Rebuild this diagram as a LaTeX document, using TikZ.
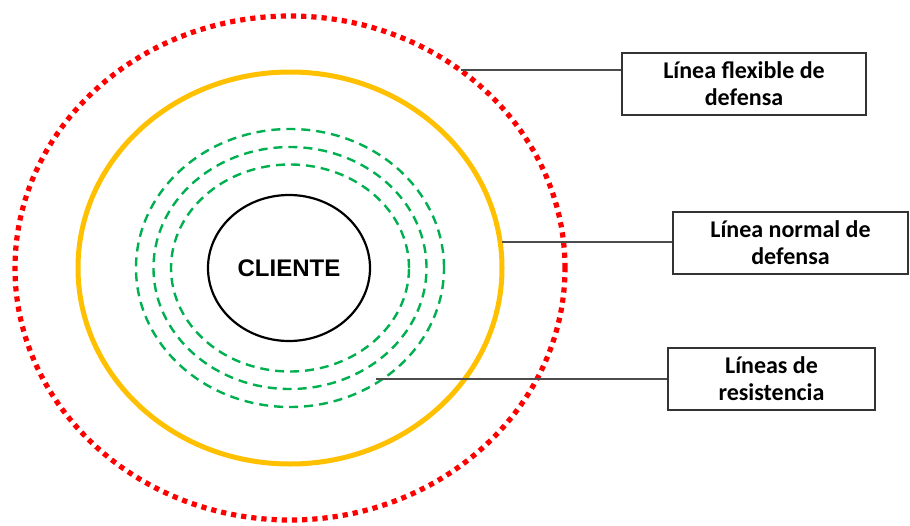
\documentclass[tikz,border=0pt]{standalone}
\usepackage{fontspec}
\setmainfont{Carlito}
\newfontfamily\arialb{Liberation Sans}
\usetikzlibrary{shapes.geometric}
\definecolor{dotred}{RGB}{255,0,0}
\definecolor{ringorange}{RGB}{255,192,0}
\definecolor{ringgreen}{RGB}{0,176,80}
\tikzset{
  ring/.style={ellipse, inner sep=0pt},
  labelbox/.style={draw=black!80, line width=1.3pt, minimum height=62pt, align=center,
    font=\fontsize{24}{27}\selectfont\bfseries},
  leader/.style={draw=black!70, line width=1.3pt}
}
\begin{document}
\begin{tikzpicture}[x=1pt,y=-1pt]
\useasboundingbox (0,0) rectangle (910,525);
\node[ring, draw=dotred, line width=5.2pt, dash pattern=on 5.2pt off 5pt,
  minimum width=550pt, minimum height=504pt] (red) at (290,268) {};
\node[ring, draw=ringorange, line width=5pt,
  minimum width=424pt, minimum height=392pt] (orange) at (290,268) {};
\node[ring, draw=ringgreen, line width=2.4pt, dash pattern=on 9pt off 6pt,
  minimum width=308pt, minimum height=278pt] (g1) at (290,268) {};
\node[ring, draw=ringgreen, line width=2.4pt, dash pattern=on 9pt off 6pt,
  minimum width=273pt, minimum height=242pt] (g2) at (290,268) {};
\node[ring, draw=ringgreen, line width=2.4pt, dash pattern=on 9pt off 6pt,
  minimum width=238pt, minimum height=207pt] (g3) at (290,268) {};
\node[ring, draw=black, line width=2.2pt,
  minimum width=162pt, minimum height=146pt] (client) at (289,268)
  {\arialb\fontsize{24}{26}\selectfont\bfseries CLIENTE};

\node[labelbox, minimum width=244pt] (b1) at (744,84) {Línea flexible de\\defensa};
\node[labelbox, minimum width=235pt] (b2) at (790.5,243) {Línea normal de\\defensa};
\node[labelbox, minimum width=207pt] (b3) at (771.5,379) {Líneas de\\resistencia};

\coordinate (p1) at (461,70);
\coordinate (p2) at (502,242);
\coordinate (p3) at (376,379);
\draw[leader] (p1) -- (p1 -| b1.west);
\draw[leader] (p2) -- (p2 -| b2.west);
\draw[leader] (p3) -- (p3 -| b3.west);
\end{tikzpicture}
\end{document}
